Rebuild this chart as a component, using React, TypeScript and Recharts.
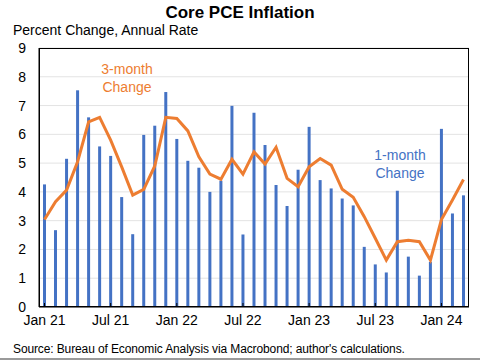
import React from 'react';
import { ComposedChart, Bar, Line, XAxis, YAxis, CartesianGrid } from 'recharts';

const months: string[] = [
  'Jan 21', 'Feb 21', 'Mar 21', 'Apr 21', 'May 21', 'Jun 21', 'Jul 21', 'Aug 21', 'Sep 21', 'Oct 21', 'Nov 21', 'Dec 21',
  'Jan 22', 'Feb 22', 'Mar 22', 'Apr 22', 'May 22', 'Jun 22', 'Jul 22', 'Aug 22', 'Sep 22', 'Oct 22', 'Nov 22', 'Dec 22',
  'Jan 23', 'Feb 23', 'Mar 23', 'Apr 23', 'May 23', 'Jun 23', 'Jul 23', 'Aug 23', 'Sep 23', 'Oct 23', 'Nov 23', 'Dec 23',
  'Jan 24', 'Feb 24', 'Mar 24',
];

// 1-month change, annualized
const oneMonth: number[] = [
  4.26, 2.67, 5.15, 7.53, 6.59, 5.58, 5.25, 3.82, 2.53, 5.98, 6.3, 7.47,
  5.84, 5.08, 4.84, 4.0, 4.39, 6.99, 2.52, 6.75, 5.63, 4.24, 3.51, 4.77,
  6.26, 4.41, 4.12, 3.77, 3.53, 2.09, 1.48, 1.2, 4.04, 1.75, 1.09, 1.57,
  6.19, 3.25, 3.88,
];

// 3-month change, annualized
const threeMonth: number[] = [
  3.04, 3.66, 4.06, 5.05, 6.43, 6.59, 5.8, 4.87, 3.89, 4.09, 4.9, 6.59,
  6.55, 6.12, 5.22, 4.62, 4.44, 5.13, 4.62, 5.39, 4.97, 5.55, 4.47, 4.18,
  4.87, 5.16, 4.93, 4.09, 3.81, 3.14, 2.39, 1.63, 2.27, 2.32, 2.27, 1.63,
  3.04, 3.72, 4.43,
];

const xTicks: string[] = ['Jan 21', 'Jul 21', 'Jan 22', 'Jul 22', 'Jan 23', 'Jul 23', 'Jan 24'];
const yTicks: number[] = [0, 1, 2, 3, 4, 5, 6, 7, 8, 9];

const data = months.map((m, i) => ({ month: m, one: oneMonth[i], three: threeMonth[i] }));

const FONT = '"Liberation Sans", Arial, sans-serif';
const BLUE = '#4472C4';
const ORANGE = '#ED7D31';

export default function App() {
  return (
    <div style={{ position: 'absolute', left: 0, top: 0, width: 480, height: 360, fontFamily: FONT, background: '#fff' }}>
      <div style={{ position: 'absolute', left: 0, top: 358, width: 480, height: 2, background: '#9a9a9a' }} />
      <div style={{ position: 'absolute', left: 0, width: 480, top: 3, textAlign: 'center', fontWeight: 'bold', fontSize: 17 }}>
        Core PCE Inflation
      </div>
      <div style={{ position: 'absolute', left: 13, top: 22, fontSize: 14 }}>Percent Change, Annual Rate</div>

      <ComposedChart
        width={480}
        height={360}
        data={data}
        margin={{ top: 48, right: 11, bottom: 23, left: 0 }}
        style={{ position: 'absolute', left: 0, top: 0 }}
      >
        <CartesianGrid horizontal vertical={false} stroke="#e3e3e3" />
        <XAxis
          dataKey="month"
          ticks={xTicks}
          interval={0}
          height={30}
          tickSize={-4}
          tickMargin={12}
          tick={{ fill: '#000', fontSize: 14, fontFamily: FONT }}
          stroke="#000"
        />
        <YAxis
          domain={[0, 9]}
          ticks={yTicks}
          width={39}
          tickLine={false}
          tickSize={0}
          tickMargin={13}
          tick={{ fill: '#000', fontSize: 14, fontFamily: FONT }}
          stroke="#000"
        />
        <Bar dataKey="one" fill={BLUE} barSize={3} isAnimationActive={false} />
        <Line
          dataKey="three"
          type="linear"
          stroke={ORANGE}
          strokeWidth={3}
          dot={false}
          isAnimationActive={false}
        />
      </ComposedChart>

      <div style={{ position: 'absolute', left: 39, top: 48, width: 430, height: 259, boxSizing: 'border-box', border: '1px solid #000', pointerEvents: 'none' }} />

      <div style={{ position: 'absolute', left: 87, width: 80, top: 60, textAlign: 'center', fontSize: 14, color: ORANGE, lineHeight: '18px' }}>
        3-month<br />Change
      </div>
      <div style={{ position: 'absolute', left: 360, width: 80, top: 146, textAlign: 'center', fontSize: 14, color: BLUE, lineHeight: '18px' }}>
        1-month<br />Change
      </div>

      <div style={{ position: 'absolute', left: 13, top: 342, fontSize: 12, letterSpacing: -0.12, whiteSpace: 'nowrap' }}>
        Source: Bureau of Economic Analysis via Macrobond; author's calculations.
      </div>
    </div>
  );
}
